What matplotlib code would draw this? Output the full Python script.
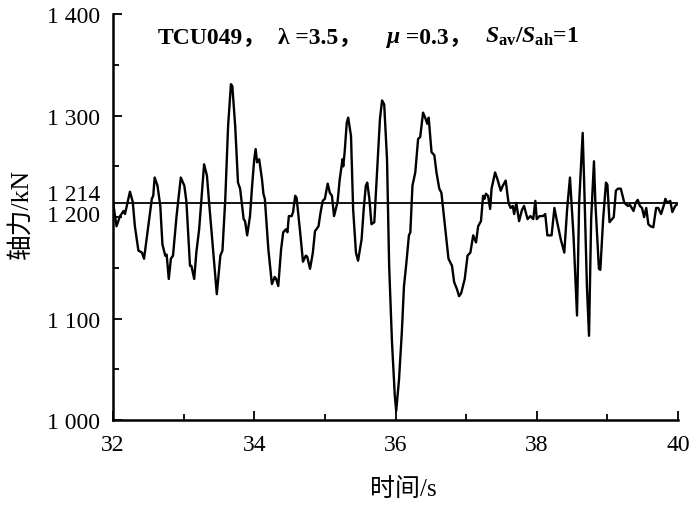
import matplotlib
matplotlib.use("Agg")
import matplotlib.pyplot as plt
import matplotlib.transforms as mtransforms
from matplotlib.ticker import MultipleLocator

plt.rcParams['font.family'] = ['Liberation Serif', 'Noto Sans CJK SC']
plt.rcParams['mathtext.fontset'] = 'custom'
plt.rcParams['mathtext.rm'] = 'Liberation Serif:bold'
plt.rcParams['mathtext.it'] = 'Liberation Serif:bold:italic'
plt.rcParams['mathtext.bf'] = 'Liberation Serif:bold'

# time (s) and axial force (kN)
time_s = [
    32.00, 32.05, 32.10, 32.15, 32.17, 32.24, 32.28, 32.31, 32.36, 32.41,
    32.44, 32.50, 32.55, 32.57, 32.59, 32.63, 32.67, 32.70, 32.74, 32.76,
    32.79, 32.82, 32.85, 32.90, 32.96, 33.01, 33.04, 33.09, 33.11, 33.15,
    33.18, 33.22, 33.26, 33.29, 33.33, 33.36, 33.42, 33.47, 33.52, 33.55,
    33.59, 33.63, 33.67, 33.69, 33.73, 33.77, 33.80, 33.85, 33.87, 33.90,
    33.94, 33.97, 34.00, 34.02, 34.04, 34.07, 34.11, 34.13, 34.15, 34.20,
    34.25, 34.29, 34.31, 34.34, 34.38, 34.41, 34.45, 34.47, 34.49, 34.53,
    34.55, 34.58, 34.60, 34.65, 34.69, 34.73, 34.75, 34.79, 34.83, 34.86,
    34.91, 34.94, 34.97, 35.00, 35.04, 35.07, 35.10, 35.13, 35.18, 35.21,
    35.25, 35.26, 35.28, 35.31, 35.33, 35.37, 35.40, 35.44, 35.47, 35.52,
    35.55, 35.58, 35.60, 35.63, 35.66, 35.70, 35.74, 35.78, 35.81, 35.84,
    35.88, 35.91, 35.95, 35.99, 36.01, 36.05, 36.09, 36.12, 36.15, 36.19,
    36.21, 36.24, 36.28, 36.32, 36.35, 36.39, 36.42, 36.45, 36.47, 36.51,
    36.55, 36.58, 36.62, 36.65, 36.70, 36.75, 36.80, 36.83, 36.87, 36.90,
    36.93, 36.98, 37.02, 37.06, 37.10, 37.14, 37.17, 37.21, 37.24, 37.26,
    37.28, 37.31, 37.34, 37.36, 37.41, 37.44, 37.49, 37.52, 37.56, 37.60,
    37.63, 37.66, 37.68, 37.71, 37.75, 37.79, 37.82, 37.87, 37.91, 37.95,
    37.98, 38.00, 38.04, 38.09, 38.12, 38.15, 38.21, 38.25, 38.28, 38.34,
    38.39, 38.43, 38.47, 38.52, 38.57, 38.60, 38.65, 38.67, 38.71, 38.74,
    38.77, 38.81, 38.83, 38.88, 38.90, 38.94, 38.98, 39.00, 39.03, 39.09,
    39.12, 39.15, 39.19, 39.24, 39.29, 39.32, 39.37, 39.40, 39.43, 39.46,
    39.49, 39.52, 39.55, 39.58, 39.61, 39.65, 39.69, 39.72, 39.76, 39.80,
    39.82, 39.85, 39.89, 39.92, 39.96, 39.98,
]
axial_force = [
    1215, 1191, 1201, 1206, 1203, 1225, 1215, 1191, 1167, 1165,
    1159, 1191, 1218, 1221, 1239, 1231, 1211, 1173, 1162, 1163,
    1139, 1159, 1162, 1201, 1239, 1231, 1215, 1152, 1152, 1139,
    1165, 1188, 1224, 1252, 1241, 1215, 1165, 1124, 1162, 1167,
    1218, 1290, 1331, 1329, 1290, 1234, 1228, 1198, 1196, 1182,
    1201, 1231, 1257, 1267, 1254, 1257, 1237, 1223, 1218, 1168,
    1134, 1141, 1139, 1132, 1168, 1185, 1188, 1185, 1201, 1201,
    1205, 1221, 1219, 1185, 1156, 1162, 1161, 1149, 1165, 1186,
    1191, 1205, 1216, 1218, 1233, 1224, 1221, 1201, 1215, 1237,
    1257, 1250, 1264, 1293, 1298, 1280, 1208, 1165, 1157, 1178,
    1208, 1231, 1234, 1218, 1193, 1195, 1247, 1297, 1315, 1311,
    1257, 1152, 1077, 1024, 1009, 1040, 1087, 1132, 1152, 1182,
    1185, 1231, 1244, 1277, 1279, 1303, 1298, 1292, 1298, 1264,
    1261, 1244, 1228, 1224, 1191, 1159, 1152, 1136, 1129, 1122,
    1125, 1139, 1162, 1165, 1182, 1175, 1191, 1196, 1221, 1218,
    1223, 1221, 1208, 1228, 1244, 1238, 1226, 1231, 1236, 1214,
    1209, 1211, 1203, 1214, 1196, 1207, 1211, 1198, 1201, 1198,
    1216, 1198, 1201, 1201, 1203, 1182, 1182, 1209, 1198, 1178,
    1165, 1208, 1239, 1182, 1103, 1214, 1283, 1237, 1132, 1083,
    1198, 1255, 1214, 1149, 1148, 1198, 1234, 1232, 1195, 1200,
    1226, 1228, 1228, 1214, 1211, 1212, 1206, 1214, 1217, 1211,
    1209, 1200, 1209, 1193, 1191, 1190, 1209, 1209, 1203, 1212,
    1218, 1214, 1216, 1205, 1211, 1212,
]
mean_force = 1214

y_ticks = [1000, 1100, 1200, 1214, 1300, 1400]
y_labels = ["1 000", "1 100", "1 200", "1 214", "1 300", "1 400"]
x_ticks = [32, 34, 36, 38, 40]

# title groups: each a list of (text, font style), with its start in axes x
title_groups = [
    (0.080, [("TCU049，", 'normal')]),
    (0.292, [("λ =3.5，", 'normal')]),
    (0.485, [("μ", 'italic'), (" =0.3，", 'normal')]),
    (0.658, [("$S_{\\mathrm{av}}/S_{\\mathrm{ah}}$=1", 'normal')]),
]

fig = plt.figure(figsize=(7, 5.06), dpi=100)
ax = fig.add_axes([0.1614, 0.168, 0.8072, 0.802])

ax.plot(time_s, axial_force, color='black', lw=1.7)
ax.axhline(mean_force, color='black', lw=1.3)

ax.set_xlim(32, 40)
ax.set_ylim(1000, 1400)
ax.set_xticks(x_ticks)
ax.xaxis.set_minor_locator(MultipleLocator(1))
ax.set_yticks(y_ticks)
ax.set_yticklabels(y_labels)
ax.yaxis.set_minor_locator(MultipleLocator(50))

for side in ['top', 'right']:
    ax.spines[side].set_visible(False)
for side in ['left', 'bottom']:
    ax.spines[side].set_linewidth(1.8)

ax.tick_params(which='major', direction='in', length=6.5, width=1.3,
               labelsize=17, pad=9)
ax.tick_params(which='minor', direction='in', length=4.5, width=1.3)
ax.tick_params(axis='x', which='major', pad=10)

# no tick mark for the mean line, and nudge the crowded labels apart
ax.yaxis.get_major_ticks()[3].tick1line.set_visible(False)
for lab in ax.get_yticklabels():
    if lab.get_text() == "1 214":
        lab.set_transform(lab.get_transform() +
                          mtransforms.ScaledTranslation(0, 8 / 72, fig.dpi_scale_trans))
    elif lab.get_text() == "1 200":
        lab.set_transform(lab.get_transform() +
                          mtransforms.ScaledTranslation(0, 3 / 72, fig.dpi_scale_trans))

ax.set_xlabel("时间/s", fontsize=18)
ax.xaxis.set_label_coords(0.513, -0.140)
ax.set_ylabel("轴力/kN", fontsize=18.5)
ax.yaxis.set_label_coords(-0.142, 0.51)

# title inside the axes, pieces laid end to end on a common baseline
fig.canvas.draw()
renderer = fig.canvas.get_renderer()
for x0, pieces in title_groups:
    x_disp, y_disp = ax.transAxes.transform((x0, 0.931))
    for txt, style in pieces:
        t = fig.text(x_disp / fig.bbox.width, y_disp / fig.bbox.height, txt,
                     fontsize=17, fontweight='bold', fontstyle=style,
                     ha='left', va='baseline')
        x_disp = t.get_window_extent(renderer).x1

fig.savefig("out.png", dpi=100)
